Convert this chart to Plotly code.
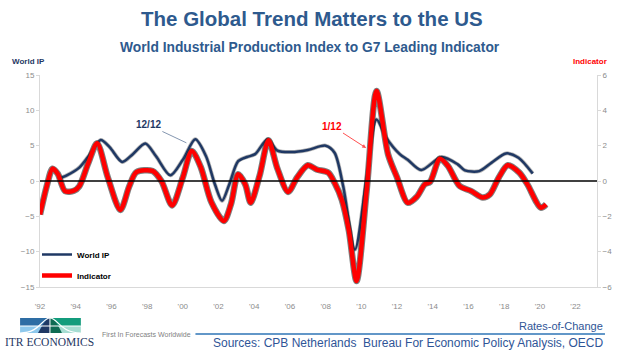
import plotly.graph_objects as go

# ---------------- data ----------------
ip_year = [1993.0, 1993.5, 1994.2, 1994.8, 1995.4, 1995.9, 1996.6, 1997.2, 1997.9, 1998.5,
           1999.3, 2000.0, 2000.7, 2001.3, 2001.8, 2002.2, 2002.6, 2003.1, 2003.6, 2004.05,
           2004.75, 2005.3, 2006.1, 2007.0, 2008.0, 2008.5, 2008.98, 2009.64, 2010.3, 2010.85,
           2011.4, 2012.15, 2012.6, 2013.35, 2014.5, 2015.4, 2015.8, 2016.6, 2017.3, 2018.1,
           2018.8, 2019.6]
ip_val = [0.3, 0.8, 1.9, 3.8, 5.8, 4.8, 2.7, 3.8, 5.3, 3.5,
          0.8, 3.0, 5.9, 3.5, -0.5, -2.8, -0.5, 2.8, 3.4, 3.8,
          5.9, 4.3, 4.1, 4.4, 5.0, 4.0, -0.7, -9.7, 0.5, 8.7,
          6.1, 3.8, 3.0, 1.55, 3.4, 2.35, 1.5, 1.4, 2.6, 3.9,
          3.3, 1.05]

ind_year = [1992.0, 1992.4, 1992.7, 1993.0, 1993.4, 1993.9, 1994.2, 1994.7, 1995.2, 1995.8,
            1996.5, 1997.0, 1997.4, 1998.3, 1998.8, 1999.4, 2000.0, 2000.5, 2001.0, 2001.6,
            2002.3, 2002.7, 2003.1, 2003.5, 2003.8, 2004.3, 2004.8, 2005.3, 2005.9, 2006.4,
            2007.0, 2007.5, 2008.15, 2008.5, 2008.9, 2009.3, 2009.73, 2010.3, 2010.85, 2011.5,
            2012.0, 2012.6, 2013.1, 2013.55, 2013.85, 2014.4, 2014.85, 2015.5, 2016.15, 2016.8,
            2017.2, 2017.7, 2018.2, 2018.85, 2019.3, 2020.05, 2020.35]
ind_val = [-1.9, -0.2, 0.7, 0.4, -0.57, -0.55, -0.3, 1.0, 2.13, 0.2,
           -1.64, -0.3, 0.5, 0.57, 0.0, -1.38, 0.2, 1.7, 0.8, -1.2,
           -2.26, -1.3, 0.38, -0.2, -1.23, 0.3, 2.3, 0.7, -0.62, 0.2,
           0.89, 0.65, 0.47, -0.1, -1.04, -2.8, -5.66, -0.5, 5.1, 1.5,
           0.2, -1.23, -0.9, -0.19, -0.05, 1.26, 0.85, -0.28, -0.57, -0.94,
           -0.76, 0.2, 0.89, 0.47, -0.19, -1.51, -1.32]

x_ticks = list(range(1992, 2023, 2))
x_tick_labels = ["'" + str(y)[2:] for y in x_ticks]
left_ticks = [-15, -10, -5, 0, 5, 10, 15]
right_ticks = [-6, -4, -2, 0, 2, 4, 6]

NAVY = "#1F3864"
RED = "#FF0000"
BLUE_TXT = "#2F5597"
FONT = "Liberation Sans, Arial, sans-serif"

# ---------------- layout helpers (pixel -> paper) ----------------
W, H = 624, 351
L, R, T, B = 40, 25, 75, 64
PW, PH = W - L - R, H - T - B


def px(xp):
    return (xp - L) / PW


def py(yp):
    return (H - B - yp) / PH


def label(text, x, y, size, color, xanchor="center", family=FONT):
    fig.add_annotation(text=text, xref="paper", yref="paper", x=px(x), y=py(y), xanchor=xanchor,
                       yanchor="middle", showarrow=False, font=dict(family=family, size=size, color=color))


fig = go.Figure()

# shadows
fig.add_trace(go.Scatter(x=ip_year, y=ip_val, mode="lines",
                         line=dict(color="rgba(40,40,40,0.35)", width=4, shape="spline", smoothing=0.8),
                         hoverinfo="skip", showlegend=False))
fig.add_trace(go.Scatter(x=ind_year, y=ind_val, yaxis="y2", mode="lines",
                         line=dict(color="rgba(40,40,40,0.6)", width=6.5, shape="spline", smoothing=0.8),
                         hoverinfo="skip", showlegend=False))
# main lines
fig.add_trace(go.Scatter(x=ip_year, y=ip_val, name="World IP", mode="lines", legendgroup="a",
                         line=dict(color=NAVY, width=2.5, shape="spline", smoothing=0.8)))
fig.add_trace(go.Scatter(x=ind_year, y=ind_val, name="Indicator", yaxis="y2", mode="lines", legendgroup="b",
                         line=dict(color=RED, width=4.5, shape="spline", smoothing=0.8)))

axis_common = dict(showgrid=False, zeroline=False, showline=True, linecolor="#D9D9D9", linewidth=1,
                   tickfont=dict(family=FONT, size=8, color="#8C8C8C"))

fig.update_layout(
    width=W, height=H, margin=dict(l=L, r=R, t=T, b=B),
    paper_bgcolor="white", plot_bgcolor="white",
    xaxis=dict(range=[1992, 2023.2], tickvals=x_ticks, ticktext=x_tick_labels, ticks="",
               ticklabelstandoff=11, **axis_common),
    yaxis=dict(range=[-15, 15], tickvals=left_ticks, ticks="outside", ticklen=3, tickcolor="#D9D9D9",
               **axis_common),
    yaxis2=dict(range=[-6, 6], tickvals=right_ticks, overlaying="y", side="right", ticks="outside",
                ticklen=3, tickcolor="#D9D9D9", **axis_common),
    showlegend=True,
    legend=dict(x=px(37), y=py(240), xanchor="left", yanchor="top", bgcolor="rgba(0,0,0,0)",
                font=dict(family=FONT, size=8, color="#000000", weight="bold"), tracegroupgap=2,
                itemwidth=30),
)

# zero line
fig.add_shape(type="line", xref="paper", x0=0, x1=1, yref="y", y0=0, y1=0,
              line=dict(color="black", width=1.5))

# titles and axis captions
label("<b>The Global Trend Matters to the US</b>", 313, 18, 20.5, "#2E5A8E")
label("<b>World Industrial Production Index to G7 Leading Indicator</b>", 311, 47, 13.8, "#2E5A8E")
label("<b>World IP</b>", 28, 62, 8, NAVY)
label("<b>Indicator</b>", 592, 62, 8, RED)

# callouts
fig.add_annotation(text="<b>12/12</b>", x=2000.2, y=5.4, ax=-38, ay=-18, showarrow=True, arrowhead=0,
                   arrowwidth=1, arrowcolor="#8496B0", font=dict(family=FONT, size=10, color=NAVY))
fig.add_annotation(text="<b>1/12</b>", x=2010.27, y=4.67, ax=-34, ay=-22, showarrow=True, arrowhead=2,
                   arrowsize=0.8, arrowwidth=1, arrowcolor="#FF5050", font=dict(family=FONT, size=10, color=RED))

# footer
label("Rates-of-Change", 607, 326, 11, BLUE_TXT, xanchor="right")
label("Sources: CPB Netherlands  Bureau For Economic Policy Analysis, OECD", 607, 343, 12, BLUE_TXT,
      xanchor="right")
fig.add_shape(type="line", xref="paper", yref="paper", x0=px(196), x1=px(607), y0=py(334), y1=py(334),
              line=dict(color="#2E75B6", width=1.5))
label("First In Forecasts Worldwide", 194, 334, 7, "#7F7F7F", xanchor="right")

# logo
for (x0, x1, y0, y1, c) in [(20, 50, 318, 326, "#2E6DA4"), (20, 50, 326, 333, "#8EC8EC"),
                            (50, 81, 318, 326, "#139C7C"), (50, 81, 326, 333, "#A6DDD2")]:
    fig.add_shape(type="rect", xref="paper", yref="paper", x0=px(x0), x1=px(x1), y0=py(y0), y1=py(y1),
                  fillcolor=c, line=dict(width=0))
fig.add_shape(type="path", xref="paper", yref="paper",
              path=f"M {px(38)} {py(333)} Q {px(46)} {py(318)} {px(50)} {py(318)} L {px(50)} {py(333)} Z",
              fillcolor="#1F3864", line=dict(width=0))
fig.add_shape(type="path", xref="paper", yref="paper",
              path=f"M {px(50)} {py(318)} Q {px(55)} {py(318)} {px(62)} {py(333)} L {px(50)} {py(333)} Z",
              fillcolor="#0E6B52", line=dict(width=0))
fig.add_shape(type="path", xref="paper", yref="paper",
              path=f"M {px(20)} {py(333)} C {px(40)} {py(333)} {px(42)} {py(318)} {px(50)} {py(318)} "
                   f"C {px(58)} {py(318)} {px(60)} {py(333)} {px(81)} {py(333)}",
              line=dict(color="white", width=1.2))
fig.add_shape(type="line", xref="paper", yref="paper", x0=px(50), x1=px(50), y0=py(318), y1=py(333),
              line=dict(color="white", width=1))
fig.add_shape(type="line", xref="paper", yref="paper", x0=px(20), x1=px(81), y0=py(326), y1=py(326),
              line=dict(color="white", width=1))
label("ITR ECONOMICS", 50, 342, 11.5, "#1F3864", family="Liberation Serif, Times New Roman, serif")

fig.write_html("out.html")
